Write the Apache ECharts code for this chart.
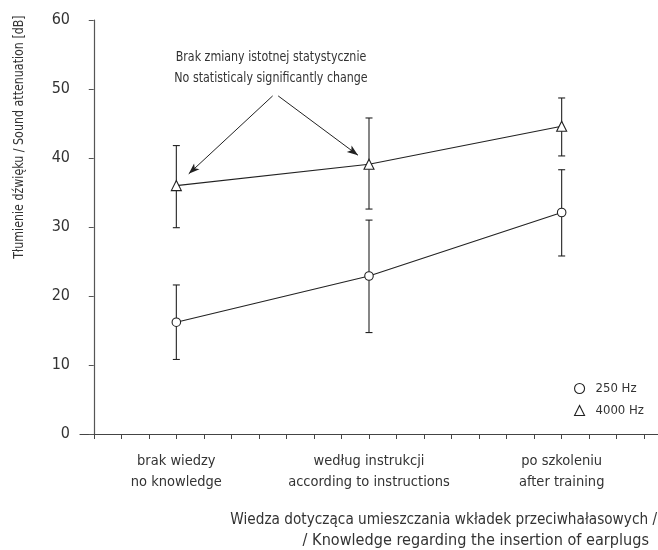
<!DOCTYPE html>
<html><head><meta charset="utf-8">
<script src="https://cdn.jsdelivr.net/npm/echarts@6/dist/echarts.min.js"></script>
<style>html,body{margin:0;padding:0;background:#fff}#c{width:658px;height:550px}</style>
</head><body><div id="c"></div>
<script>
const FONT = '"DejaVu Sans Condensed", "Roboto", sans-serif';
// categories and their positions on the tick scale (21 ticks)
const categories = ['brak wiedzy\nno knowledge', 'według instrukcji\naccording to instructions', 'po szkoleniu\nafter training'];
const tickCount = 21;
const categoryTick = [3, 10, 17];
const seriesNames = ['250 Hz', '4000 Hz'];
const mean250 = [16.2, 22.9, 32.1];
const low250 = [10.8, 14.7, 25.8];
const high250 = [21.6, 31.0, 38.3];
const mean4000 = [36.0, 39.1, 44.6];
const low4000 = [29.9, 32.6, 40.3];
const high4000 = [41.8, 45.8, 48.7];
const yTicks = [0, 10, 20, 30, 40, 50, 60];
const annotation = ['Brak zmiany istotnej statystycznie', 'No statisticaly significantly change'];
const yTitle = 'Tłumienie dźwięku / Sound attenuation [dB]';
const xTitle = ['Wiedza dotycząca umieszczania wkładek przeciwhałasowych /', '/ Knowledge regarding the insertion of earplugs'];
// annotation arrows in data space [tickPos, value]
const arrowStart = [[6.5, 49.0], [6.7, 49.0]];
const arrowEnd = [[3.45, 37.7], [9.6, 40.4]];

const axisSlots = [];
for (let i = 0; i < tickCount; i++) {
  const k = categoryTick.indexOf(i);
  axisSlots.push(k >= 0 ? categories[k] : '');
}
const TXT = '#333';
const LINE = '#222';

function pts(mean) { return mean.map((v, i) => [categoryTick[i], v]); }
function bars(low, high) { return low.map((v, i) => [categoryTick[i], v, high[i]]); }

function errRender(params, api) {
  const x = api.value(0);
  const lo = api.coord([x, api.value(1)]);
  const hi = api.coord([x, api.value(2)]);
  const w = 3.5;
  const st = { stroke: LINE, lineWidth: 1.1 };
  return { type: 'group', children: [
    { type: 'line', shape: { x1: lo[0], y1: lo[1], x2: hi[0], y2: hi[1] }, style: st },
    { type: 'line', shape: { x1: lo[0] - w, y1: lo[1], x2: lo[0] + w, y2: lo[1] }, style: st },
    { type: 'line', shape: { x1: hi[0] - w, y1: hi[1], x2: hi[0] + w, y2: hi[1] }, style: st }
  ]};
}

const chart = echarts.init(document.getElementById('c'), null, { renderer: 'canvas' });
chart.setOption({
  animation: false,
  backgroundColor: '#fff',
  textStyle: { fontFamily: FONT },
  grid: { left: 80, right: 0, top: 20, bottom: 116, containLabel: false },
  xAxis: [{
    type: 'category', data: axisSlots, boundaryGap: true,
    axisLine: { lineStyle: { color: '#444', width: 1.2 } },
    axisTick: { show: true, interval: 0, alignWithLabel: true, length: 5, lineStyle: { color: '#444' } },
    axisLabel: { interval: 0, color: TXT, fontSize: 14.5, lineHeight: 21, margin: 17, fontFamily: FONT },
    splitLine: { show: false }
  }, {
    type: 'value', min: -0.5, max: tickCount - 0.5, show: false
  }],
  yAxis: {
    type: 'value', min: yTicks[0], max: yTicks[yTicks.length - 1], interval: 10,
    axisLine: { show: true, lineStyle: { color: '#555', width: 1.2 } },
    axisTick: { show: true, length: 5, lineStyle: { color: '#555' } },
    axisLabel: { color: TXT, fontSize: 16, margin: 10, fontFamily: FONT },
    splitLine: { show: false }
  },
  legend: {
    orient: 'vertical', left: 569, top: 377, itemWidth: 10, itemHeight: 10, itemGap: 9,
    textStyle: { color: TXT, fontSize: 13, fontFamily: FONT, padding: [0, 0, 0, 6] },
    data: [
      { name: seriesNames[0], icon: 'circle', itemStyle: { color: '#fff', borderColor: LINE, borderWidth: 1.1 } },
      { name: seriesNames[1], icon: 'triangle', itemStyle: { color: '#fff', borderColor: LINE, borderWidth: 1.1 } }
    ]
  },
  graphic: [
    { type: 'text', x: 271, y: 67.5, scaleX: 0.88, style: { text: annotation.join('\n'), fill: TXT, font: '14px ' + FONT, lineHeight: 21, align: 'center', verticalAlign: 'middle' } },
    { type: 'text', x: 19, y: 137, rotation: Math.PI / 2, scaleX: 0.88, style: { text: yTitle, fill: TXT, font: '14px ' + FONT, align: 'center', verticalAlign: 'middle' } },
    { type: 'text', x: 657, y: 520, scaleX: 0.98, style: { text: xTitle[0], fill: TXT, font: '15.5px ' + FONT, align: 'right', verticalAlign: 'middle' } },
    { type: 'text', x: 649, y: 541, scaleX: 1.04, style: { text: xTitle[1], fill: TXT, font: '15.5px ' + FONT, align: 'right', verticalAlign: 'middle' } }
  ],
  series: [
    { name: 'err250', type: 'custom', xAxisIndex: 1, renderItem: errRender, data: bars(low250, high250), z: 2, silent: true },
    { name: 'err4000', type: 'custom', xAxisIndex: 1, renderItem: errRender, data: bars(low4000, high4000), z: 2, silent: true },
    { name: seriesNames[0], type: 'line', xAxisIndex: 1, data: pts(mean250), symbol: 'circle', symbolSize: 8.5,
      lineStyle: { color: LINE, width: 1.1 }, itemStyle: { color: '#fff', borderColor: LINE, borderWidth: 1.1 }, z: 3 },
    { name: seriesNames[1], type: 'line', xAxisIndex: 1, data: pts(mean4000), symbol: 'triangle', symbolSize: 10,
      lineStyle: { color: LINE, width: 1.1 }, itemStyle: { color: '#fff', borderColor: LINE, borderWidth: 1.1 }, z: 3,
      markLine: { silent: true, symbol: ['none', 'arrow'], symbolSize: [6, 11], label: { show: false },
        lineStyle: { color: LINE, width: 1, type: 'solid' },
        data: arrowStart.map((s, i) => [{ coord: s }, { coord: arrowEnd[i] }]) } }
  ]
});
</script></body></html>
